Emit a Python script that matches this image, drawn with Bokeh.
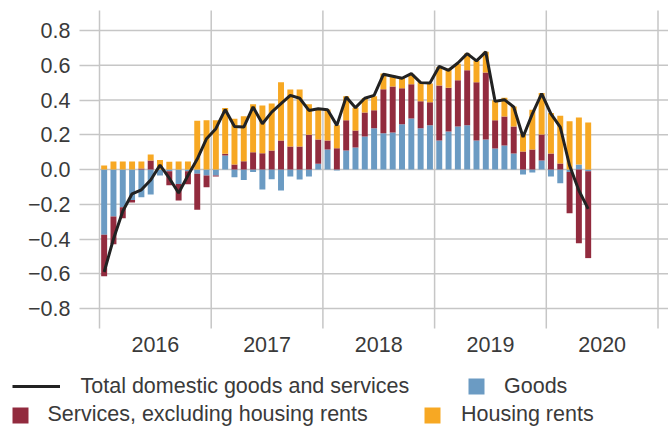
from bokeh.plotting import figure
from bokeh.models import (ColumnDataSource, Range1d, FixedTicker,
                          CustomJSTickFormatter, Legend, LegendItem)
from bokeh.embed import file_html
from bokeh.resources import INLINE

# ---------------- data ----------------
months = [f"{y}-{m:02d}" for y in range(2016, 2021) for m in range(1, 13)][:53]

goods = [-0.375, -0.27, -0.217, -0.175, -0.16, -0.144, -0.035, -0.01, -0.083, -0.01,
         -0.025, -0.035, -0.035, 0.08, -0.044, -0.06, -0.015, -0.115, -0.056, -0.121,
         -0.04, -0.058, -0.04, 0.033, 0.115, -0.006, 0.11, 0.127, 0.19, 0.237,
         0.208, 0.213, 0.26, 0.294, 0.237, 0.254, 0.167, 0.219, 0.248, 0.254,
         0.167, 0.173, 0.121, 0.138, 0.092, -0.029, -0.017, 0.052, -0.04, -0.079,
         -0.015, 0.029, -0.01]
services = [-0.24, -0.16, -0.063, -0.015, 0.006, 0.052, 0.0, -0.08, -0.096, -0.075,
            -0.206, -0.067, -0.006, 0.01, 0.029, 0.048, 0.1, 0.094, 0.11, 0.167,
            0.133, 0.133, 0.2, 0.14, 0.052, 0.123, 0.173, 0.098, 0.138, 0.104,
            0.254, 0.265, 0.208, 0.196, 0.156, 0.133, 0.317, 0.252, 0.265, 0.317,
            0.335, 0.385, 0.162, 0.167, 0.156, 0.104, 0.115, 0.15, 0.092, 0.035,
            -0.237, -0.425, -0.50]
housing = [0.023, 0.046, 0.046, 0.046, 0.04, 0.035, 0.055, 0.045, 0.046, 0.046,
           0.28, 0.283, 0.283, 0.264, 0.263, 0.258, 0.275, 0.275, 0.27, 0.335,
           0.327, 0.327, 0.175, 0.173, 0.179, 0.131, 0.138, 0.131, 0.083, 0.081,
           0.09, 0.063, 0.062, 0.058, 0.11, 0.108, 0.106, 0.11, 0.096, 0.096,
           0.123, 0.119, 0.115, 0.108, 0.115, 0.102, 0.229, 0.238, 0.233, 0.275,
           0.277, 0.271, 0.271]
total = [-0.59, -0.40, -0.24, -0.14, -0.117, -0.06, 0.025, -0.05, -0.135,
         -0.035, 0.06, 0.177, 0.235, 0.345, 0.248, 0.244, 0.36, 0.263, 0.33,
         0.379, 0.427, 0.41, 0.34, 0.35, 0.344, 0.254, 0.417, 0.356, 0.41,
         0.427, 0.548, 0.537, 0.525, 0.552, 0.5, 0.498, 0.594, 0.571, 0.613,
         0.667, 0.625, 0.677, 0.392, 0.402, 0.36, 0.187, 0.32, 0.437, 0.32,
         0.244, 0.023, -0.121, -0.227]

years = ["2016", "2017", "2018", "2019", "2020"]
y_ticks = [-0.8, -0.6, -0.4, -0.2, 0.0, 0.2, 0.4, 0.6, 0.8]

series_names = ["Goods", "Services, excluding housing rents", "Housing rents"]
series_colors = ["#6b9bc3", "#922b3e", "#f7a823"]
line_name = "Total domestic goods and services"
line_color = "#222222"

# ---------------- layout constants ----------------
W, H = 668, 426
PX_MONTH = 111.7 / 12          # pixels per month
PX_UNIT = 173.75               # pixels per 1.0 on the y scale
AXIS_X, ZERO_Y = 99, 169       # pixel position of Jan-2016 and of 0.0
PLOT_TOP, PLOT_BOTTOM = 10, 328

X_LO, X_HI = -AXIS_X / PX_MONTH, (W - AXIS_X) / PX_MONTH
Y_HI, Y_LO = ZERO_Y / PX_UNIT, -(H - ZERO_Y) / PX_UNIT
Y_TOP = (ZERO_Y - PLOT_TOP) / PX_UNIT
Y_BOTTOM = -(PLOT_BOTTOM - ZERO_Y) / PX_UNIT

# ---------------- helpers ----------------
def month_x(s):
    y, m = map(int, s.split("-"))
    return (y - 2016) * 12 + (m - 1) + 0.5

bx = [month_x(s) for s in months]

# diverging stack: positives up from 0, negatives down from 0
pos = [0.0] * len(bx)
neg = [0.0] * len(bx)
sources = []
for vals in (goods, services, housing):
    tops, bots = [], []
    for i, v in enumerate(vals):
        if v >= 0:
            bots.append(pos[i]); tops.append(pos[i] + v); pos[i] += v
        else:
            tops.append(neg[i]); bots.append(neg[i] + v); neg[i] += v
    sources.append(ColumnDataSource(dict(x=bx, top=tops, bottom=bots)))
line_src = ColumnDataSource(dict(x=bx, y=total))

# ---------------- figure ----------------
FONT = "Liberation Sans"
FS = "21.5px"
TXT = "#3a3a3a"
GRID = "#c6c6c6"

p = figure(width=W, height=H, output_backend="svg", toolbar_location=None,
           x_range=Range1d(X_LO, X_HI), y_range=Range1d(Y_LO, Y_HI),
           min_border_left=0, min_border_right=0, min_border_top=0,
           min_border_bottom=0)
p.outline_line_color = None
p.background_fill_color = "white"
p.border_fill_color = "white"
p.xgrid.visible = False
p.ygrid.visible = False

# grid lines (horizontal at y ticks, vertical at year boundaries)
year_bounds = [12 * k for k in range(len(years) + 1)]
p.segment(x0=[0] * len(y_ticks), x1=[X_HI] * len(y_ticks), y0=y_ticks, y1=y_ticks,
          line_color=GRID, line_width=1.5, level="underlay")
p.segment(x0=year_bounds, x1=year_bounds, y0=[Y_BOTTOM] * len(year_bounds),
          y1=[Y_TOP] * len(year_bounds), line_color=GRID, line_width=1.5,
          level="underlay")

bar_renderers = [p.vbar(x="x", width=0.64, top="top", bottom="bottom", source=src,
                        fill_color=col, line_color=None)
                 for src, col in zip(sources, series_colors)]
line_r = p.line(x="x", y="y", source=line_src, line_color=line_color, line_width=3)

# y axis pinned at Jan 2016
p.yaxis.fixed_location = 0
p.yaxis.ticker = FixedTicker(ticks=y_ticks)
p.yaxis.formatter = CustomJSTickFormatter(
    code='return (tick < -1e-9 ? "\\u2212" : "") + Math.abs(tick).toFixed(1);')
p.yaxis.axis_line_color = None
p.yaxis.major_tick_line_color = GRID
p.yaxis.major_tick_line_width = 1.5
p.yaxis.major_tick_out = 20
p.yaxis.major_tick_in = 0
p.yaxis.minor_tick_line_color = None
p.yaxis.major_label_standoff = 9
p.yaxis.major_label_text_font = FONT
p.yaxis.major_label_text_font_size = FS
p.yaxis.major_label_text_color = TXT

# x axis (year labels) pinned at the bottom of the plotting area
p.xaxis.fixed_location = Y_BOTTOM
p.xaxis.ticker = FixedTicker(ticks=[6 + 12 * k for k in range(len(years))])
p.xaxis.formatter = CustomJSTickFormatter(args=dict(labels=years),
                                          code="return labels[Math.floor(tick / 12)];")
p.xaxis.axis_line_color = None
p.xaxis.major_tick_line_color = None
p.xaxis.minor_tick_line_color = None
p.xaxis.major_label_standoff = 2
p.xaxis.major_label_text_font = FONT
p.xaxis.major_label_text_font_size = FS
p.xaxis.major_label_text_color = TXT

# legend entries
def add_key(label, rend, loc, gw, standoff):
    leg = Legend(items=[LegendItem(label=label, renderers=[rend])],
                 location=loc, orientation="horizontal",
                 glyph_width=gw, glyph_height=20, label_standoff=standoff,
                 padding=0, margin=0, spacing=0,
                 border_line_color=None, background_fill_alpha=0,
                 label_text_font=FONT, label_text_font_size=FS,
                 label_text_color=TXT)
    p.add_layout(leg)

add_key(line_name, line_r, (11.5, 27.5), 48, 21)
add_key(series_names[0], bar_renderers[0], (466, 27.5), 20, 18)
add_key(series_names[1], bar_renderers[1], (9.5, -1), 20, 18)
add_key(series_names[2], bar_renderers[2], (422, -1), 20, 19)

open("out.html", "w").write(file_html(p, INLINE))
